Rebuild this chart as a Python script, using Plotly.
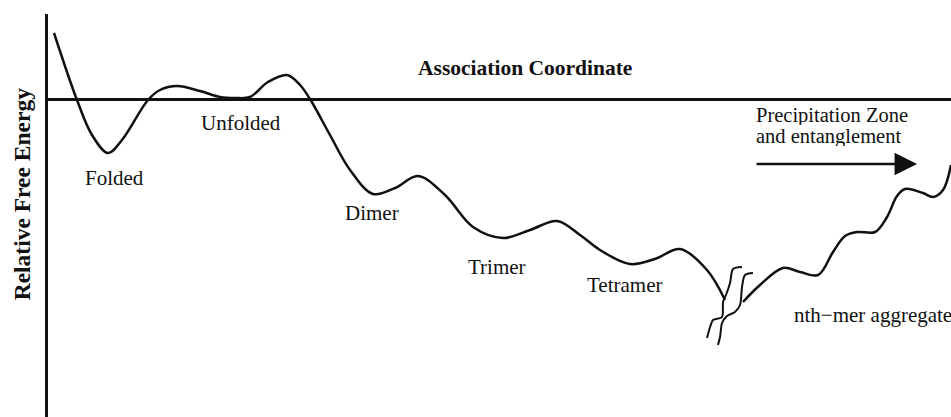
import plotly.graph_objects as go

# Main free-energy profile (association coordinate, relative free energy)
coord_main = [0.67, 3.22, 4.89, 6.67, 8.22, 11.11, 12.44, 14.33, 16.89, 19.11, 20.78, 22.44,
              24.44, 26.56, 28.0, 29.11, 31.33, 33.56, 36.11, 38.56, 41.11, 44.11, 47.22,
              50.56, 53.56, 56.56, 59.11, 61.33, 64.67, 67.44, 70.22, 73.22, 75.22]
energy_main = [6.6, -0.1, -3.6, -5.4, -4.1, -0.1, 0.9, 1.3, 0.8, 0.2, 0.1, 0.2,
               1.7, 2.4, 1.4, 0.0, -3.6, -7.1, -9.5, -8.9, -7.7, -9.6, -12.8,
               -13.9, -13.1, -12.2, -13.6, -15.1, -16.5, -16.0, -15.0, -17.1, -20.1]

# Profile after the axis break (aggregation / precipitation zone)
coord_agg = [77.22, 79.11, 81.67, 83.56, 85.56, 87.22, 88.56, 89.89, 91.89, 93.22,
             94.33, 95.22, 97.22, 98.33, 99.44, 100.33]
energy_agg = [-20.3, -18.6, -16.9, -17.3, -17.6, -15.3, -13.7, -13.3, -13.3, -11.8,
              -9.7, -9.0, -9.4, -9.8, -9.1, -6.6]

# Break marks (two squiggles)
break1_x = [77.11, 76.11, 75.78, 75.33, 75.0, 74.89, 73.89, 73.56, 73.22]
break1_y = [-16.8, -17.0, -18.4, -19.6, -20.3, -21.8, -22.1, -22.8, -23.9]
break2_x = [78.33, 77.44, 77.11, 76.89, 76.33, 75.44, 74.89, 74.67, 74.44]
break2_y = [-17.4, -17.6, -18.8, -20.6, -21.3, -21.7, -22.4, -23.8, -24.6]

# State labels
state_labels = ["Folded", "Unfolded", "Dimer", "Trimer", "Tetramer"]
state_x = [7.44, 21.44, 36.0, 49.9, 64.1]
state_y = [-7.9, -2.4, -11.4, -16.8, -18.6]

agg_label = "nth\u2212mer aggregate"
agg_x, agg_y = 82.67, -21.6
zone_lines = ["Precipitation Zone", "and entanglement"]
zone_x = 78.56
zone_y = [-1.6, -3.7]
arrow_start = (78.56, -6.5)
arrow_end = (96.56, -6.5)

FONT = "Liberation Serif, Times New Roman, serif"
INK = "#111111"

fig = go.Figure()
fig.add_trace(go.Scatter(x=coord_main, y=energy_main, mode="lines",
                         line=dict(color=INK, width=2.5, shape="spline", smoothing=1.0),
                         hoverinfo="skip"))
fig.add_trace(go.Scatter(x=coord_agg, y=energy_agg, mode="lines",
                         line=dict(color=INK, width=2.5, shape="spline", smoothing=1.0),
                         hoverinfo="skip"))
for bx, by in [(break1_x, break1_y), (break2_x, break2_y)]:
    fig.add_trace(go.Scatter(x=bx, y=by, mode="lines",
                             line=dict(color=INK, width=2, shape="spline", smoothing=0.8),
                             hoverinfo="skip"))

annotations = []
annotations.append(dict(x=53.0, y=3.1, xref="x", yref="y", text="<b>Association Coordinate</b>",
                        showarrow=False, font=dict(family=FONT, size=21.5, color=INK)))
annotations.append(dict(x=-0.0288, y=0.555, xref="paper", yref="paper",
                        xanchor="center", yanchor="middle",
                        text="<b>Relative Free Energy</b>", textangle=-90, showarrow=False,
                        font=dict(family=FONT, size=23.5, color=INK)))
for t, x, y in zip(state_labels, state_x, state_y):
    annotations.append(dict(x=x, y=y, xref="x", yref="y", text=t, showarrow=False,
                            font=dict(family=FONT, size=21, color=INK)))
annotations.append(dict(x=agg_x, y=agg_y, xref="x", yref="y", text=agg_label, showarrow=False,
                        xanchor="left", font=dict(family=FONT, size=21, color=INK)))
for t, y in zip(zone_lines, zone_y):
    annotations.append(dict(x=zone_x, y=y, xref="x", yref="y", text=t, showarrow=False,
                            xanchor="left", height=20, borderpad=0,
                            font=dict(family=FONT, size=20.5, color=INK)))
annotations.append(dict(x=arrow_end[0], y=arrow_end[1], ax=arrow_start[0], ay=arrow_start[1],
                        xref="x", yref="y", axref="x", ayref="y", text="", showarrow=True,
                        arrowhead=2, arrowsize=1.8, arrowwidth=2.5, arrowcolor=INK))

fig.update_layout(
    width=951, height=417,
    margin=dict(l=48, r=0, t=14, b=0),
    paper_bgcolor="white", plot_bgcolor="white",
    showlegend=False,
    annotations=annotations,
    xaxis=dict(range=[0, 100.33], showgrid=False, zeroline=False, showticklabels=False,
               ticks="", showline=False, fixedrange=True),
    yaxis=dict(range=[-31.8, 8.5], showgrid=False, showticklabels=False, ticks="",
               showline=True, linewidth=3, linecolor=INK,
               zeroline=True, zerolinewidth=3, zerolinecolor=INK, fixedrange=True),
)

fig.write_html("out.html", config={"displayModeBar": False},
               post_script="document.body.style.margin='0px';document.body.style.overflow='hidden';")
